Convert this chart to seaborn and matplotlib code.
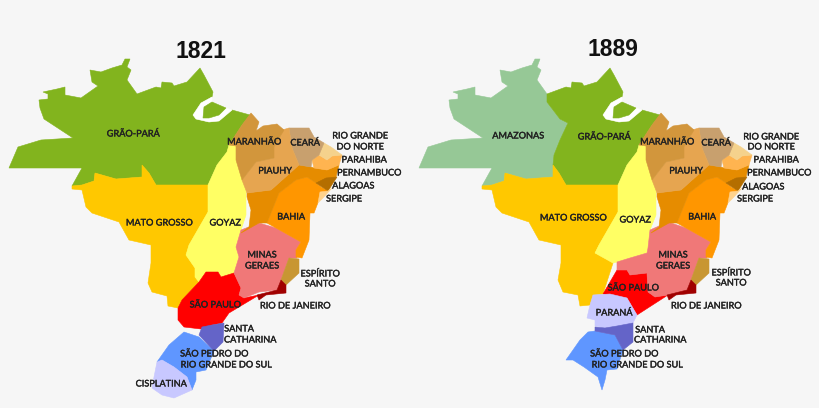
import matplotlib
matplotlib.use('Agg')
from matplotlib import patheffects
from matplotlib import pyplot as plt
import pandas as pd
import seaborn as sns

# Contours, en pixels de la carte
grao_para_1821 = [(10,168),(19,147),(42,140),(74,138),(45,119),(41,108),(40,100),(49,99),(49,94),(44,92),(58,89),(66,87),(66,95),(82,98),(99,86),(93,82),(91,70),(102,72),(113,68),(123,65),(126,59),(131,59),(128,67),(132,70),(128,80),(138,94),(157,87),(162,88),(163,82),(173,83),(175,86),(188,82),(201,68),(205,75),(214,92),(213,97),(202,103),(194,115),(197,119),(210,122),(220,121),(233,110),(251,115),(243,125),(230,145),(228,152),(218,165),(209,185),(157,185),(150,173),(143,165),(143,177),(117,179),(96,173),(95,181),(83,185),(73,186),(83,168)]
grao_para_1889 = [(138,94),(157,87),(162,88),(163,82),(173,83),(175,86),(188,82),(201,68),(205,75),(214,92),(213,97),(202,103),(194,115),(197,119),(210,122),(220,121),(233,110),(251,115),(243,125),(230,145),(228,152),(218,165),(209,185),(157,185),(150,173),(144,165),(145,155),(151,140),(159,123),(151,119),(138,102)]
amazonas = [(10,168),(19,147),(42,140),(74,138),(45,119),(41,108),(40,100),(49,99),(49,94),(44,92),(58,89),(66,87),(66,95),(82,98),(99,86),(93,82),(91,70),(102,72),(113,68),(123,65),(126,59),(131,59),(128,67),(132,70),(128,80),(138,94),(138,102),(151,119),(159,123),(151,140),(145,155),(144,165),(144,177),(117,179),(96,173),(95,181),(83,185),(73,186),(83,168)]
marajo = [(205,107),(213,102),(227,108),(220,115),(210,118),(204,118)]
canal = [(213,97),(202,103),(194,115),(197,119),(210,122),(220,121),(233,110),(227,108),(220,115),(210,118),(204,118),(205,107),(213,102)]
mato_grosso_1821 = [(73,186),(83,185),(95,181),(96,173),(117,179),(143,177),(143,165),(150,173),(157,185),(209,185),(209,212),(190,245),(187,255),(196,268),(196,277),(200,282),(183,300),(179,308),(169,306),(168,296),(153,292),(149,283),(152,263),(152,245),(130,240),(120,222),(93,213),(87,207),(83,190),(73,189)]
mato_grosso_1889 = [(73,186),(83,185),(95,181),(96,173),(117,179),(144,177),(144,165),(150,173),(157,185),(209,185),(209,212),(190,245),(186,253),(204,263),(194,294),(184,295),(181,305),(171,306),(169,295),(154,292),(149,280),(152,263),(152,245),(130,240),(120,222),(93,213),(87,207),(83,190),(73,189)]
goyaz_1821 = [(230,145),(237,146),(238,162),(248,172),(243,180),(251,190),(247,193),(247,215),(242,230),(237,247),(240,257),(235,273),(222,277),(219,272),(207,272),(200,282),(196,277),(196,268),(187,255),(190,245),(209,212),(209,185),(218,165),(228,152)]
goyaz_1889 = [(230,145),(237,146),(238,162),(248,172),(243,180),(251,190),(247,193),(247,215),(241,230),(239,248),(238,253),(221,258),(208,262),(204,263),(186,253),(190,245),(209,212),(209,185),(218,165),(228,152)]
minas_1821 = [(242,230),(260,223),(277,228),(302,242),(297,250),(298,258),(290,258),(282,280),(278,290),(260,292),(245,298),(240,295),(242,288),(235,273),(240,257),(237,247)]
minas_1889 = [(241,230),(259,222),(277,228),(302,242),(297,250),(298,258),(290,258),(282,280),(278,290),(259,295),(246,297),(239,292),(238,273),(221,275),(218,270),(208,270),(208,262),(221,258),(238,253),(239,248)]
sao_paulo_1821 = [(207,272),(219,272),(222,277),(235,273),(242,288),(240,295),(245,298),(260,295),(230,313),(223,323),(213,325),(202,329),(185,327),(179,320),(179,308),(183,300),(200,282)]
sao_paulo_1889 = [(208,270),(218,270),(221,275),(238,273),(239,292),(246,297),(259,295),(228,315),(218,298),(201,295),(194,294)]
parana = [(184,295),(201,294),(218,298),(228,315),(224,323),(208,327),(196,328),(186,326),(186,320),(178,318),(181,305)]
espirito_santo = [(290,258),(300,259),(300,273),(287,285),(282,280)]
rio_janeiro = [(282,280),(287,285),(287,293),(267,295),(260,300),(258,295),(278,290)]
bahia = [(268,223),(280,193),(297,180),(308,177),(317,183),(322,187),(329,191),(320,200),(315,213),(311,213),(310,240),(303,258),(297,257),(297,250),(302,242),(277,228)]
pernambuco = [(248,193),(272,190),(300,165),(312,167),(315,168),(328,170),(340,165),(337,177),(329,181),(317,183),(308,177),(297,180),(280,193),(268,223),(260,223),(242,233),(250,227),(252,210),(248,197)]
alagoas = [(317,183),(327,178),(338,177),(329,191)]
sergipe = [(321,192),(329,191),(333,188),(324,198),(319,203)]
parahiba = [(313,160),(320,155),(328,160),(333,156),(343,155),(340,165),(328,170),(315,168)]
rio_grande_norte = [(320,155),(325,143),(332,147),(343,155),(333,156),(328,160)]
ceara = [(290,128),(310,128),(315,137),(325,143),(320,155),(313,160),(312,167),(300,165),(293,148)]
piauhy = [(283,130),(290,128),(293,148),(300,165),(272,190),(248,193),(243,180),(257,162),(275,158),(275,147),(282,135)]
maranhao = [(252,113),(260,122),(257,131),(264,126),(278,124),(285,130),(282,135),(275,147),(275,158),(257,162),(243,180),(237,160),(237,146),(230,145),(243,125)]
santa_catharina_1821 = [(203,327),(213,325),(225,323),(224,342),(215,351),(200,335)]
santa_catharina_1889 = [(186,327),(196,328),(208,326),(224,323),(224,342),(214,350),(206,335),(186,331)]
rio_grande_sul_1821 = [(185,332),(200,337),(215,351),(207,370),(197,372),(197,380),(193,390),(188,377),(175,367),(163,360),(158,362),(170,345)]
rio_grande_sul_1889 = [(186,331),(206,335),(214,350),(208,369),(198,370),(196,380),(193,390),(189,377),(175,367),(164,360),(157,360),(171,340),(179,332)]
cisplatina = [(158,362),(163,360),(175,367),(188,377),(193,390),(175,398),(163,395),(153,388),(155,377)]

communes = [('ES',espirito_santo,'#c89632'),('RJ',rio_janeiro,'#a00000'),('BA',bahia,'#ff9600'),('PE',pernambuco,'#e68c00'),
            ('AL',alagoas,'#b46e00'),('SE',sergipe,'#ffd28c'),('PB',parahiba,'#ffb450'),('RN',rio_grande_norte,'#f5d28c'),
            ('CE',ceara,'#c8a06e'),('PI',piauhy,'#e6a550'),('MA',maranhao,'#d2963c')]
regions_1821 = [('PA',grao_para_1821,'#82b41e'),('canal',canal,'#ffffff'),('PA2',marajo,'#82b41e'),('MT',mato_grosso_1821,'#ffc800'),
                ('GO',goyaz_1821,'#ffff64'),('SP',sao_paulo_1821,'#ff0000'),('MG',minas_1821,'#f07878')] + communes + [
                ('RS',rio_grande_sul_1821,'#5f96ff'),('SC',santa_catharina_1821,'#6464c8'),('UY',cisplatina,'#c8c8ff')]
regions_1889 = [('AM',amazonas,'#96c896'),('PA',grao_para_1889,'#82b41e'),('canal',canal,'#ffffff'),('PA2',marajo,'#82b41e'),('MT',mato_grosso_1889,'#ffc800'),
                ('GO',goyaz_1889,'#ffff64'),('SP',sao_paulo_1889,'#ff0000'),('MG',minas_1889,'#f07878')] + communes + [
                ('PR',parana,'#c8c8ff'),('RS',rio_grande_sul_1889,'#5f96ff'),('SC',santa_catharina_1889,'#6464c8')]

noms_1821 = ['GRÃO-PARÁ','MARANHÃO','CEARÁ','RIO GRANDE','DO NORTE','PARAHIBA','PIAUHY','PERNAMBUCO','ALAGOAS','SERGIPE','BAHIA','GOYAZ','MATO GROSSO','MINAS','GERAES','ESPÍRITO','SANTO','SÃO PAULO','RIO DE JANEIRO','SANTA','CATHARINA','SÃO PEDRO DO','RIO GRANDE DO SUL','CISPLATINA']
noms_x_1821 = [134,255,306,361,361,365,276,370,354,345,292,226,160,263,263,321,321,216,296,240,251,215,227,162]
noms_y_1821 = [134,142,143,136,147,160,171,173,186,199,217,223,223,255,266,274,284,305,306,329,340,354,365,384]
noms_1889 = ['AMAZONAS','GRÃO-PARÁ','MARANHÃO','CEARÁ','RIO GRANDE','DO NORTE','PARAHIBA','PIAUHY','PERNAMBUCO','ALAGOAS','SERGIPE','BAHIA','GOYAZ','MATO GROSSO','MINAS','GERAES','ESPÍRITO','SANTO','SÃO PAULO','RIO DE JANEIRO','PARANÁ','SANTA','CATHARINA','SÃO PEDRO DO','RIO GRANDE DO SUL']
noms_x_1889 = [109,195,258,307,362,362,367,277,370,354,346,293,226,164,264,264,322,322,224,297,205,241,251,215,228]
noms_y_1889 = [136,137,142,143,137,147,160,171,173,187,199,217,220,218,255,266,273,283,288,306,313,330,340,354,365]

annees = ['1821','1889']
titre_x = [202,204]
titre_y = [52,50]

# Tableau long pour le FacetGrid
lignes = []
for annee, regions in zip(annees, [regions_1821, regions_1889]):
    for ordre, (code, contour, couleur) in enumerate(regions):
        for x, y in contour:
            lignes.append({'annee': annee, 'ordre': ordre, 'code': code, 'couleur': couleur, 'x': x, 'y': y})
df = pd.DataFrame(lignes)


def trace_regions(data, **kwargs):
    ax = plt.gca()
    for _, groupe in data.groupby('ordre'):
        coul = groupe.couleur.iloc[0]
        ax.fill(groupe.x, groupe.y, facecolor=coul, edgecolor=coul, linewidth=0.4)


sns.set_theme(style='white', rc={'figure.facecolor': '#f6f6f6', 'axes.facecolor': '#f6f6f6'})
plt.rcParams['font.family'] = ['Lato', 'DejaVu Sans']

g = sns.FacetGrid(df, col='annee', col_order=annees, height=4.08, aspect=410 / 408, despine=False)
g.map_dataframe(trace_regions)
g.fig.subplots_adjust(left=0, right=1, bottom=0, top=1, wspace=0)
g.set_titles('')

# Léger contour pour épaissir les libellés comme sur l'original
gras = [patheffects.withStroke(linewidth=0.25, foreground='#222222')]
textes = [(noms_1821, noms_x_1821, noms_y_1821), (noms_1889, noms_x_1889, noms_y_1889)]
for i, ax in enumerate(g.axes.flat):
    ax.set_xlim(i, 410 + i)
    ax.set_ylim(408, 0)
    ax.set_axis_off()
    ax.text(titre_x[i], titre_y[i], annees[i], ha='center', va='center', fontsize=16.5,
            fontweight='bold', family='Liberation Sans', color='#111111')
    noms, xs, ys = textes[i]
    for nom, x, y in zip(noms, xs, ys):
        ax.text(x, y, nom, ha='center', va='center', fontsize=6.6, color='#222222', path_effects=gras)

g.fig.savefig('out.png', dpi=100, facecolor='#f6f6f6')
